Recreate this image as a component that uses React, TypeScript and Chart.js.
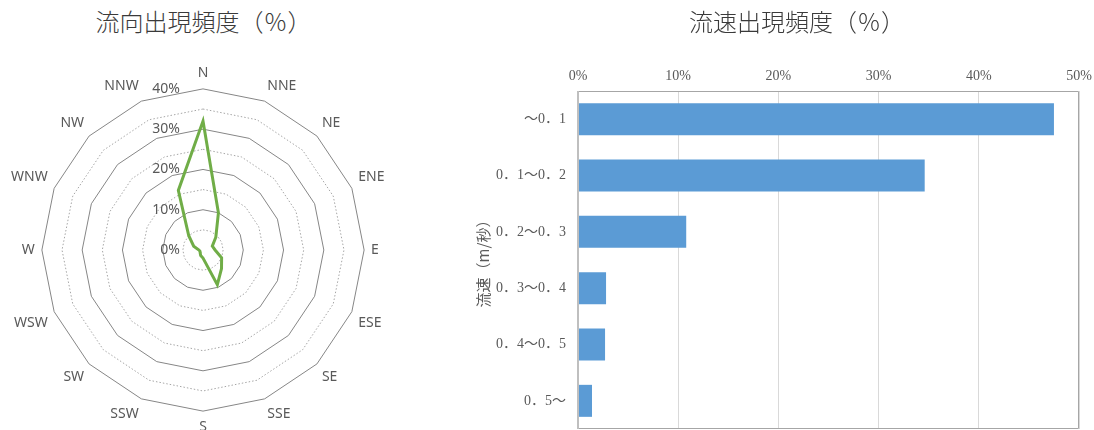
import React, { useEffect, useRef } from "react";
import { Chart, registerables } from "chart.js";

Chart.register(...registerables);

// ---------- data ----------
const directions = ["N", "NNE", "NE", "ENE", "E", "ESE", "SE", "SSE", "S", "SSW", "SW", "WSW", "W", "WNW", "NW", "NNW"];
const directionFreq = [32, 10, 4.5, 2.5, 3, 5, 6.5, 9.3, 2, 1.5, 1, 0.8, 1, 2.5, 5, 16];
const radarTickValues = [0, 10, 20, 30, 40];

const speedClasses = ["～0．1", "0．1～0．2", "0．2～0．3", "0．3～0．4", "0．4～0．5", "0．5～"];
const speedFreq = [47.5, 34.6, 10.8, 2.8, 2.7, 1.4];

const leftTitle = "流向出現頻度（％）";
const rightTitle = "流速出現頻度（％）";
const speedAxisTitle = "流速（m/秒）";

// ---------- styles ----------
const FONT_SANS = "'Noto Sans', 'Noto Sans CJK JP', sans-serif";
const FONT_SERIF = "'Liberation Serif', 'Noto Sans CJK JP', serif";
const FONT_CJK = "'Noto Sans CJK JP', sans-serif";
const TEXT = "#595959";

function RadarChart() {
  const ref = useRef<HTMLCanvasElement>(null);
  useEffect(() => {
    const tickLabelPlugin = {
      id: "radarTickLabels",
      afterDatasetsDraw(chart: any) {
        const s = chart.scales.r;
        const ctx = chart.ctx;
        ctx.save();
        ctx.font = `14px ${FONT_SANS}`;
        ctx.fillStyle = TEXT;
        ctx.textAlign = "right";
        ctx.textBaseline = "middle";
        radarTickValues.forEach((v) => {
          const d = s.getDistanceFromCenterForValue(v);
          ctx.fillText(v + "%", s.xCenter - 23, s.yCenter - d);
        });
        ctx.restore();
      },
    };
    const chart = new Chart(ref.current as HTMLCanvasElement, {
      type: "radar",
      data: {
        labels: directions,
        datasets: [
          {
            data: directionFreq,
            borderColor: "#70AD47",
            borderWidth: 3,
            pointRadius: 0,
            fill: false,
            tension: 0,
          },
        ],
      },
      options: {
        animation: false,
        responsive: false,
        maintainAspectRatio: false,
        plugins: { legend: { display: false }, tooltip: { enabled: false } },
        layout: { padding: 0 },
        scales: {
          r: {
            min: 0,
            max: 40,
            ticks: { stepSize: 5, display: false },
            angleLines: { display: false },
            grid: {
              color: (c: any) => (c.tick && c.tick.value % 10 === 0 ? "#868686" : "#a6a6a6"),
              lineWidth: 1,
            },
            border: {
              dash: (c: any) => (c.tick && c.tick.value % 10 === 0 ? [] : [1.5, 2]),
            },
            pointLabels: {
              font: { family: FONT_SANS, size: 14 },
              color: TEXT,
              padding: 7,
            },
          },
        },
      } as any,
      plugins: [tickLabelPlugin],
    });
    return () => chart.destroy();
  }, []);
  return (
    <canvas
      ref={ref}
      width={384}
      height={384}
      style={{ position: "absolute", left: 6, top: 59, width: 384, height: 384 }}
    />
  );
}

function BarChart() {
  const ref = useRef<HTMLCanvasElement>(null);
  useEffect(() => {
    const boxPlugin = {
      id: "plotBox",
      afterDatasetsDraw(chart: any) {
        const { left, right, top, bottom } = chart.chartArea;
        const ctx = chart.ctx;
        ctx.save();
        ctx.strokeStyle = "#a6a6a6";
        ctx.lineWidth = 1;
        ctx.beginPath();
        ctx.moveTo(left, top + 0.5);
        ctx.lineTo(right - 0.5, top + 0.5);
        ctx.lineTo(right - 0.5, bottom - 0.5);
        ctx.lineTo(left, bottom - 0.5);
        ctx.stroke();
        ctx.strokeStyle = "#bfbfbf";
        ctx.lineWidth = 2;
        ctx.beginPath();
        ctx.moveTo(left, top);
        ctx.lineTo(left, bottom);
        ctx.stroke();
        ctx.restore();
      },
    };
    const chart = new Chart(ref.current as HTMLCanvasElement, {
      type: "bar",
      data: {
        labels: speedClasses,
        datasets: [
          {
            data: speedFreq,
            backgroundColor: "#5B9BD5",
            barPercentage: 0.568,
            categoryPercentage: 1,
          },
        ],
      },
      options: {
        indexAxis: "y",
        animation: false,
        responsive: false,
        maintainAspectRatio: false,
        layout: { padding: { top: 0, right: 15, bottom: 1, left: 0 } },
        plugins: { legend: { display: false }, tooltip: { enabled: false } },
        scales: {
          x: {
            position: "top",
            min: 0,
            max: 50,
            ticks: {
              stepSize: 10,
              callback: (v: any) => v + "%",
              font: { family: FONT_SERIF, size: 14 },
              color: TEXT,
              padding: 6,
            },
            grid: { color: "#d9d9d9", drawTicks: false },
            border: { display: false },
            afterFit: (s: any) => {
              s.height = 91;
              s.paddingLeft = 0;
              s.paddingRight = 0;
            },
          },
          y: {
            ticks: { font: { family: FONT_SERIF, size: 14 }, color: TEXT, padding: 12 },
            grid: { display: false, drawTicks: false },
            border: { display: false },
            title: {
              display: true,
              text: speedAxisTitle,
              font: { family: FONT_CJK, size: 15 },
              color: TEXT,
              padding: { top: 4, bottom: 0 },
            },
            afterFit: (s: any) => {
              s.width = 108;
              s.paddingTop = 0;
              s.paddingBottom = 0;
            },
          },
        },
      } as any,
      plugins: [boxPlugin],
    });
    return () => chart.destroy();
  }, []);
  return (
    <canvas
      ref={ref}
      width={624}
      height={430}
      style={{ position: "absolute", left: 470, top: 0, width: 624, height: 430 }}
    />
  );
}

export default function App() {
  const titleStyle: React.CSSProperties = {
    position: "absolute",
    top: 7,
    fontFamily: FONT_CJK,
    fontSize: 24,
    fontWeight: 300,
    lineHeight: "28px",
    color: "#3a3a3a",
    textAlign: "center",
    whiteSpace: "nowrap",
  };
  return (
    <div
      style={{
        position: "fixed",
        left: 0,
        top: 0,
        width: 1094,
        height: 430,
        overflow: "hidden",
        background: "#ffffff",
      }}
    >
      <RadarChart />
      <BarChart />
      <div style={{ ...titleStyle, left: 0, width: 407 }}>{leftTitle}</div>
      <div style={{ ...titleStyle, left: 587, width: 420 }}>{rightTitle}</div>
    </div>
  );
}
